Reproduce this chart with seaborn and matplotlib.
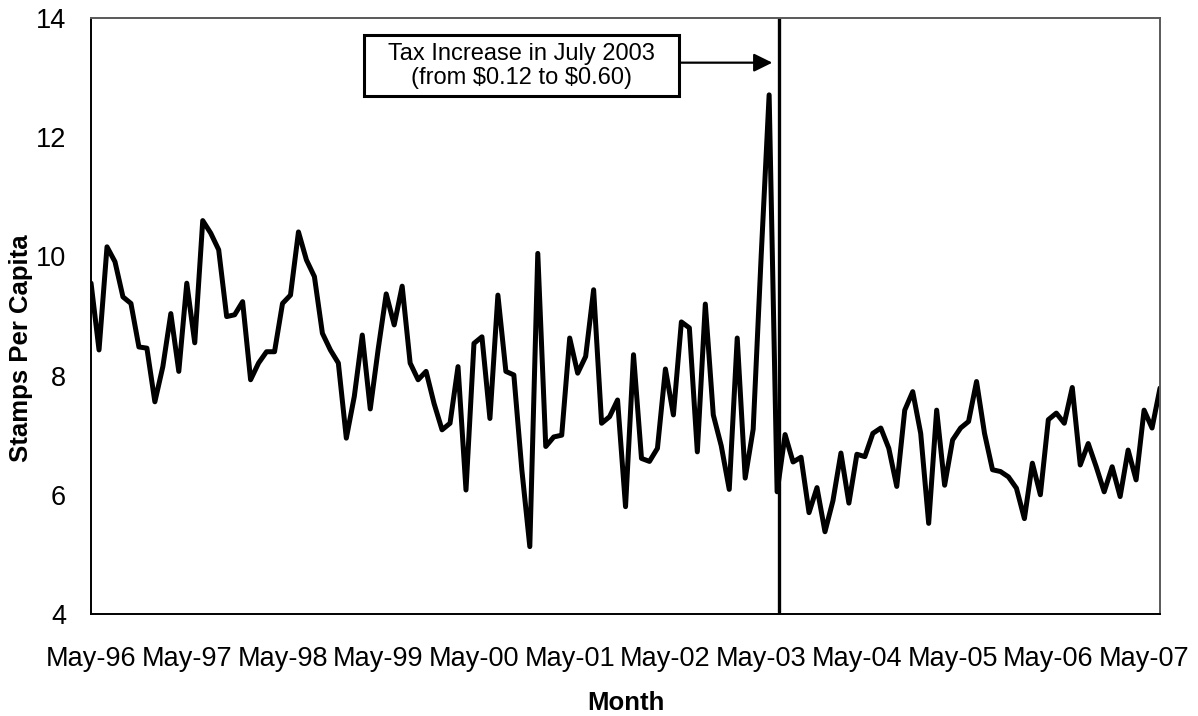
import matplotlib
matplotlib.use('Agg')
import matplotlib.pyplot as plt
import matplotlib.patches as mpatches
import seaborn as sns
import pandas as pd

# Monthly stamps per capita, May-96 .. Jul-07
stamps = [
    9.55, 8.43, 10.16, 9.91, 9.32, 9.21, 8.48, 8.46, 7.56, 8.15, 9.04, 8.07,
    9.55, 8.55, 10.60, 10.39, 10.11, 8.99, 9.02, 9.24, 7.93, 8.21, 8.40, 8.40,
    9.21, 9.35, 10.41, 9.94, 9.66, 8.71, 8.43, 8.21, 6.95, 7.65, 8.68, 7.44,
    8.45, 9.37, 8.85, 9.50, 8.21, 7.93, 8.07, 7.53, 7.09, 7.20, 8.15, 6.08,
    8.54, 8.65, 7.28, 9.35, 8.07, 8.01, 6.42, 5.13, 10.05, 6.81, 6.97, 7.00,
    8.63, 8.04, 8.32, 9.44, 7.20, 7.31, 7.59, 5.80, 8.35, 6.61, 6.56, 6.78,
    8.11, 7.34, 8.90, 8.80, 6.72, 9.20, 7.34, 6.82, 6.09, 8.63, 6.28, 7.10,
    10.00, 12.71, 6.05, 7.01, 6.55, 6.63, 5.70, 6.12, 5.38, 5.90, 6.70, 5.86,
    6.68, 6.64, 7.03, 7.12, 6.78, 6.14, 7.42, 7.73, 7.03, 5.52, 7.42, 6.16,
    6.92, 7.12, 7.23, 7.90, 7.03, 6.42, 6.39, 6.30, 6.11, 5.60, 6.53, 6.00,
    7.26, 7.37, 7.20, 7.80, 6.50, 6.86, 6.47, 6.05, 6.47, 5.97, 6.75, 6.25,
    7.42, 7.12, 7.79,
]
month_idx = list(range(len(stamps)))

tick_labels = ['May-96', 'May-97', 'May-98', 'May-99', 'May-00', 'May-01',
               'May-02', 'May-03', 'May-04', 'May-05', 'May-06', 'May-07']
tick_pos = [12 * k for k in range(len(tick_labels))]
y_ticks = [4, 6, 8, 10, 12, 14]

tax_month = 86.2          # July 2003
note_text = 'Tax Increase in July 2003\n(from \\$0.12 to \\$0.60)'

df = pd.DataFrame({'month': month_idx, 'stamps': stamps})

sns.set_style('white')
plt.rcParams['font.family'] = ['Liberation Sans', 'DejaVu Sans']
plt.rcParams['text.color'] = 'black'
plt.rcParams['axes.labelcolor'] = 'black'

fig = plt.figure(figsize=(11.98, 7.16), dpi=100)
ax = fig.add_axes([0.076, 0.1425, 0.8923, 0.8324])

sns.lineplot(data=df, x='month', y='stamps', color='black', linewidth=3.6,
             solid_joinstyle='round', solid_capstyle='round', ax=ax)

# tax increase marker
ax.axvline(tax_month, ymin=0.003, ymax=1.0, color='black', linewidth=2.4)

# annotation box + arrow
box = mpatches.Rectangle((34.25, 12.69), 39.5, 1.025, transform=ax.transData,
                         facecolor='white', edgecolor='black', linewidth=2.2,
                         clip_on=False, zorder=5)
ax.add_patch(box)
ax.text(54.0, 13.2, note_text, ha='center', va='center', fontsize=17,
        linespacing=1.1, color='black', zorder=6)
ax.annotate('', xy=(85.4, 13.25), xytext=(73.75, 13.25),
            arrowprops=dict(arrowstyle='-|>,head_length=0.75,head_width=0.37',
                            mutation_scale=15, lw=1.6, color='black',
                            shrinkA=0, shrinkB=0))

ax.set_xlim(0, len(stamps) - 1)
ax.set_ylim(4, 14)
ax.set_xticks(tick_pos)
ax.set_xticklabels(tick_labels)
ax.set_yticks(y_ticks)
ax.set_yticklabels([str(t) for t in y_ticks])

ax.tick_params(axis='both', direction='inout', length=16, width=1.2,
               color='#808080', labelsize=19.5, labelcolor='black')
ax.tick_params(axis='x', pad=15)
ax.tick_params(axis='y', pad=10)

for side in ['left', 'bottom']:
    ax.spines[side].set_color('black')
    ax.spines[side].set_linewidth(1.4)
for side in ['top', 'right']:
    ax.spines[side].set_color('#595959')
    ax.spines[side].set_linewidth(1.4)

ax.set_xlabel('Month', fontsize=18.5, fontweight='bold', color='black')
ax.set_ylabel('Stamps Per Capita', fontsize=18.5, fontweight='bold', color='black')
ax.xaxis.set_label_coords(0.5, -0.13)
ax.yaxis.set_label_coords(-0.054, 0.446)

plt.savefig('out.png', dpi=100)
